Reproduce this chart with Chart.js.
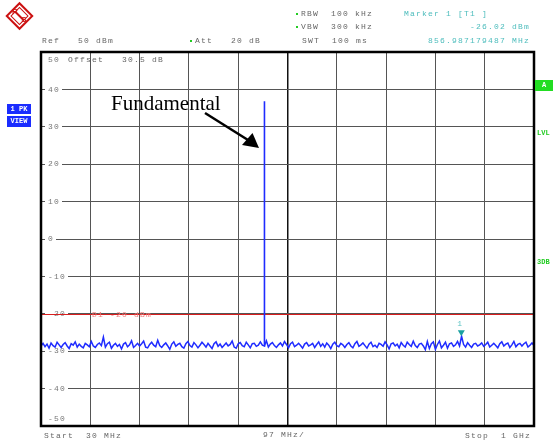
<!DOCTYPE html>
<html>
<head>
<meta charset="utf-8">
<script src="https://cdn.jsdelivr.net/npm/chart.js@4/dist/chart.umd.min.js"></script>
<style>
  html, body { margin: 0; padding: 0; background: #fff; }
  canvas { display: block; }
</style>
</head>
<body>
<canvas id="c" width="556" height="445"></canvas>
<script>
// ---------- data ----------
const startMHz = 30;
const stopMHz = 1000;
const stepMHz = 97;
const yMin = -50;
const yMax = 50;
const yStep = 10;
const yTickLabels = [50, 40, 30, 20, 10, 0, -10, -20, -30, -40, -50];
const displayLine = -20;

// noise floor trace (dBm), sweep points evenly spread from start to stop
const noiseLevels = [
  -28.6,-27.9,-28.8,-28.1,-29.2,-27.8,-28.5,-28.9,-27.6,-28.3,
  -29.0,-28.2,-27.7,-28.6,-29.3,-28.0,-28.4,-27.5,-28.9,-28.1,
  -28.7,-29.1,-27.9,-28.3,-28.8,-27.4,-28.6,-29.0,-28.2,-27.8,
  -28.5,-26.2,-28.9,-28.0,-27.6,-29.2,-28.4,-27.9,-28.7,-28.2,
  -29.4,-28.1,-27.7,-28.8,-28.3,-27.2,-29.0,-28.5,-27.9,-28.6,
  -28.0,-27.3,-28.9,-29.1,-28.2,-27.6,-28.4,-28.8,-27.1,-28.5,
  -29.0,-28.3,-27.8,-28.6,-29.5,-28.1,-27.5,-28.7,-28.2,-27.9,
  -28.8,-29.2,-28.0,-27.4,-28.5,-28.9,-27.7,-28.3,-29.1,-28.4,
  -27.6,-28.2,-28.9,-27.9,-28.6,-29.3,-28.0,-27.5,-28.7,-28.1,
  -29.0,-28.4,-27.8,-28.6,-28.2,-27.3,-28.9,-29.2,-28.0,-27.7,
  -28.5,-28.8,-27.6,-28.3,-29.1,-28.0,-27.9,-28.7,-28.4,-27.5,
  -28.4,-28.6,-27.2,-28.9,-28.1,-27.7,-28.5,-29.0,-28.3,-27.8,
  -28.6,-27.4,-28.2,-29.1,-28.0,-27.6,-28.8,-28.4,-27.9,-28.5,
  -29.2,-28.1,-27.7,-28.6,-28.3,-27.9,-29.0,-28.2,-27.5,-28.7,
  -28.0,-28.9,-27.8,-28.4,-29.3,-28.1,-27.6,-28.5,-28.8,-27.9,
  -28.3,-29.0,-28.2,-27.7,-28.6,-29.1,-28.0,-27.4,-28.7,-28.3,
  -27.8,-28.5,-29.2,-28.1,-27.6,-28.8,-28.4,-29.0,-27.9,-28.2,
  -28.7,-27.5,-28.3,-29.4,-28.0,-27.8,-28.6,-28.1,-29.1,-27.7,
  -28.4,-28.9,-27.6,-28.2,-28.7,-27.3,-28.5,-29.0,-28.1,-27.9,
  -28.6,-29.6,-27.4,-29.3,-28.0,-27.5,-29.5,-28.2,-27.3,-29.1,
  -28.4,-27.6,-29.2,-28.0,-27.8,-28.7,-28.3,-27.4,-28.6,-26.0,
  -28.2,-28.9,-27.7,-28.4,-29.0,-28.1,-27.9,-28.6,-28.3,-27.8,
  -28.7,-28.2,-27.6,-28.9,-28.4,-27.9,-28.5,-29.1,-28.0,-27.5,
  -28.6,-28.1,-27.8,-29.0,-28.3,-27.4,-28.8,-28.2,-27.9,-28.6,
  -28.0,-27.6,-28.9,-28.4,-27.8,-28.5
];

// fundamental spike
const spikeFreqs  = [468.9, 469.0, 469.9, 470.1];
const spikeLevels = [-28.3, 36.8, -6.2, -28.4];

// marker 1
const markerFreq = 856.987179487;
const markerLevel = -26.02;

// ---------- build datasets ----------
const n = noiseLevels.length;
const noisePoints = noiseLevels.map((v, i) => ({
  x: startMHz + i * (stopMHz - startMHz) / (n - 1), y: v
}));
const spikePoints = spikeFreqs.map((f, i) => ({ x: f, y: spikeLevels[i] }));

const MONO = '"Liberation Mono", "DejaVu Sans Mono", monospace';

function txt(ctx, s, x, y, color, align) {
  ctx.save();
  ctx.font = '8px ' + MONO;
  ctx.letterSpacing = '1.2px';
  ctx.fillStyle = color;
  ctx.textAlign = align || 'left';
  ctx.textBaseline = 'middle';
  ctx.fillText(s, x, y);
  ctx.restore();
}

const decor = {
  id: 'decor',
  beforeDatasetsDraw(chart) {
    const ctx = chart.ctx;
    const ys = chart.scales.y;
    const a = chart.chartArea;
    ctx.save();
    ctx.font = '8px ' + MONO;
    ctx.letterSpacing = '1.2px';
    yTickLabels.forEach(v => {
      let y = ys.getPixelForValue(v);
      const s = String(v);
      const w = ctx.measureText(s).width;
      if (v === yMax) y += 8;
      else if (v === yMin) y -= 7;
      else {
        ctx.fillStyle = '#fff';
        ctx.fillRect(45, y - 3, w + 5, 6);
      }
      txt(ctx, s, 48, y, '#777');
    });
    ctx.restore();
    txt(ctx, 'Offset   30.5 dB', 68, a.top + 8, '#666');
    const yd = Math.round(ys.getPixelForValue(displayLine)) + 0.5;
    ctx.save();
    ctx.strokeStyle = '#d81e1e';
    ctx.lineWidth = 1;
    ctx.beginPath();
    ctx.moveTo(a.left, yd);
    ctx.lineTo(a.right, yd);
    ctx.stroke();
    ctx.restore();
    txt(ctx, 'D1 -20 dBm', 92, yd, '#f07878');
  },
  afterDatasetsDraw(chart) {
    const ctx = chart.ctx;
    const xs = chart.scales.x, ys = chart.scales.y;
    const a = chart.chartArea;
    const mx = xs.getPixelForValue(markerFreq);
    const my = ys.getPixelForValue(markerLevel);
    ctx.save();
    ctx.fillStyle = '#1aa0a0';
    ctx.beginPath();
    ctx.moveTo(mx, my);
    ctx.lineTo(mx - 3.5, my - 6);
    ctx.lineTo(mx + 3.5, my - 6);
    ctx.closePath();
    ctx.fill();
    ctx.restore();
    txt(ctx, '1', mx - 1, my - 12, '#5cc4c4', 'center');
    ctx.save();
    ctx.strokeStyle = '#000';
    ctx.lineWidth = 2.5;
    ctx.strokeRect(a.left, a.top, a.right - a.left, a.bottom - a.top);
    ctx.restore();
    ctx.save();
    ctx.font = '21px "Liberation Serif", "Times New Roman", serif';
    ctx.fillStyle = '#000';
    ctx.textBaseline = 'alphabetic';
    ctx.fillText('Fundamental', 111, 110);
    ctx.strokeStyle = '#000';
    ctx.lineWidth = 2.5;
    ctx.beginPath();
    ctx.moveTo(205, 113);
    ctx.lineTo(248, 140);
    ctx.stroke();
    ctx.beginPath();
    ctx.moveTo(259, 148);
    ctx.lineTo(242, 145);
    ctx.lineTo(252.5, 133);
    ctx.closePath();
    ctx.fill();
    ctx.restore();
  },
  afterDraw(chart) {
    const ctx = chart.ctx;
    txt(ctx, 'Ref   50 dBm', 42, 41, '#666');
    ctx.fillStyle = '#22cc22';
    ctx.fillRect(190, 40, 2, 2);
    txt(ctx, 'Att   20 dB', 195, 41, '#666');
    ctx.fillStyle = '#22cc22';
    ctx.fillRect(296, 13, 2, 2);
    ctx.fillRect(296, 26, 2, 2);
    txt(ctx, 'RBW  100 kHz', 301, 14, '#666');
    txt(ctx, 'VBW  300 kHz', 301, 27, '#666');
    txt(ctx, 'SWT  100 ms', 302, 41, '#666');
    txt(ctx, 'Marker 1 [T1 ]', 404, 14, '#4cbcbc');
    txt(ctx, '-26.02 dBm', 530, 27, '#4cbcbc', 'right');
    txt(ctx, '856.987179487 MHz', 530, 41, '#4cbcbc', 'right');
    txt(ctx, 'Start  30 MHz', 44, 436, '#666');
    txt(ctx, '97 MHz/', 284, 435, '#666', 'center');
    txt(ctx, 'Stop  1 GHz', 531, 436, '#666', 'right');
    ctx.fillStyle = '#1a2cff';
    ctx.fillRect(7, 104, 24, 10);
    ctx.fillRect(7, 116, 24, 11);
    ctx.save();
    ctx.font = 'bold 7px ' + MONO;
    ctx.fillStyle = '#fff';
    ctx.textAlign = 'center';
    ctx.textBaseline = 'middle';
    ctx.fillText('1 PK', 19, 109.5);
    ctx.fillText('VIEW', 19, 121.5);
    ctx.restore();
    ctx.fillStyle = '#22dd22';
    ctx.fillRect(535, 80, 18, 11);
    ctx.save();
    ctx.font = 'bold 7px ' + MONO;
    ctx.fillStyle = '#fff';
    ctx.textAlign = 'center';
    ctx.textBaseline = 'middle';
    ctx.fillText('A', 544, 85.5);
    ctx.fillStyle = '#22cc22';
    ctx.textAlign = 'left';
    ctx.fillText('LVL', 537, 133);
    ctx.fillText('3DB', 537, 262);
    ctx.restore();
    ctx.save();
    ctx.translate(19.5, 16);
    ctx.rotate(Math.PI / 4);
    ctx.strokeStyle = '#cc1111';
    ctx.lineWidth = 2;
    ctx.fillStyle = '#fff';
    ctx.fillRect(-9, -9, 18, 18);
    ctx.strokeRect(-9, -9, 18, 18);
    ctx.lineWidth = 1;
    ctx.strokeRect(-6, -6, 12, 12);
    ctx.fillStyle = '#cc1111';
    ctx.fillRect(-6, -1, 12, 2);
    ctx.restore();
    ctx.save();
    ctx.font = 'bold 8px "Liberation Sans", sans-serif';
    ctx.fillStyle = '#cc1111';
    ctx.textAlign = 'center';
    ctx.textBaseline = 'middle';
    ctx.fillText('R', 15, 12);
    ctx.fillText('S', 24, 20);
    ctx.restore();
  }
};

new Chart(document.getElementById('c'), {
  type: 'line',
  data: {
    datasets: [
      { data: noisePoints, borderColor: '#1f2cff', borderWidth: 1.5, pointRadius: 0, tension: 0, fill: false },
      { data: spikePoints, borderColor: '#1f2cff', borderWidth: 1.6, pointRadius: 0, tension: 0, fill: false }
    ]
  },
  options: {
    responsive: false,
    devicePixelRatio: 1,
    animation: false,
    layout: { padding: { left: 41, right: 22, top: 52, bottom: 19 } },
    plugins: { legend: { display: false }, tooltip: { enabled: false } },
    scales: {
      x: {
        type: 'linear',
        min: startMHz, max: stopMHz,
        ticks: { display: false, stepSize: stepMHz },
        grid: {
          drawTicks: false,
          color: ctx => (ctx.tick && ctx.tick.value === (startMHz + stopMHz) / 2) ? '#111' : '#555',
          lineWidth: ctx => (ctx.tick && ctx.tick.value === (startMHz + stopMHz) / 2) ? 1.5 : 1
        },
        border: { display: false }
      },
      y: {
        type: 'linear',
        min: yMin, max: yMax,
        ticks: { display: false, stepSize: yStep },
        grid: { drawTicks: false, color: '#555', lineWidth: 1 },
        border: { display: false }
      }
    }
  },
  plugins: [decor]
});
</script>
</body>
</html>
